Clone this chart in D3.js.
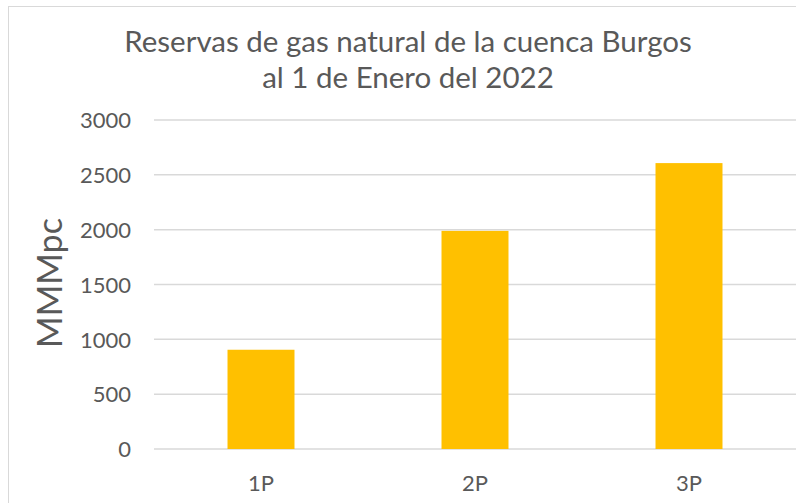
<!DOCTYPE html>
<html><head><meta charset="utf-8">
<script src="https://cdn.jsdelivr.net/npm/d3@7"></script>
<style>body{margin:0;background:#fff}svg{display:block}text{font-family:Lato,"Open Sans",sans-serif;fill:#595959}</style>
</head><body><svg id="c" width="796" height="503"></svg>
<script>
const categories = ["1P","2P","3P"];
const values = [905, 1989, 2607];
const yTicks = [0,500,1000,1500,2000,2500,3000];
const titleLines = ["Reservas de gas natural de la cuenca Burgos","al 1 de Enero del 2022"];
const yLabel = "MMMpc";

const svg = d3.select("#c");
svg.append("rect").attr("x",8.5).attr("y",6.5).attr("width",800).attr("height",520)
  .attr("fill","#fff").attr("stroke","#d9d9d9").attr("stroke-width",1);

const m = {left:154, right:796, top:120, bottom:449};
const x = d3.scaleBand().domain(categories).range([m.left,m.right]).paddingInner(0.687).paddingOuter(0.3435);
const y = d3.scaleLinear().domain([0,3000]).range([m.bottom,m.top]);

svg.append("g").selectAll("line").data(yTicks).join("line")
  .attr("x1",m.left).attr("x2",m.right).attr("y1",d=>y(d)).attr("y2",d=>y(d))
  .attr("stroke","#d9d9d9").attr("stroke-width",1.5);

svg.append("g").selectAll("rect").data(values).join("rect")
  .attr("x",(d,i)=>x(categories[i])).attr("width",x.bandwidth())
  .attr("y",d=>y(d)).attr("height",d=>y(0)-y(d)).attr("fill","#ffc000");

const yAxis = d3.axisLeft(y).tickValues(yTicks).tickFormat(d3.format("d")).tickSize(0).tickPadding(0);
const gy = svg.append("g").attr("transform",`translate(131,0)`).call(yAxis);
gy.select(".domain").remove();
gy.selectAll("text").attr("font-size",22).attr("fill","#595959").attr("dy","0.35em").style("font-family","Lato,sans-serif");

const xAxis = d3.axisBottom(x).tickSize(0).tickPadding(0);
const gx = svg.append("g").attr("transform",`translate(0,483)`).call(xAxis);
gx.select(".domain").remove();
gx.selectAll("text").attr("font-size",22).attr("fill","#595959").attr("dy","0.35em").style("font-family","Lato,sans-serif");

svg.append("text").attr("transform","translate(62,283) rotate(-90)").attr("text-anchor","middle")
  .attr("font-size",34).text(yLabel);

svg.append("g").selectAll("text").data(titleLines).join("text")
  .attr("x",408).attr("y",(d,i)=>52+i*36).attr("text-anchor","middle").attr("font-size",29.5).text(d=>d);
</script></body></html>
